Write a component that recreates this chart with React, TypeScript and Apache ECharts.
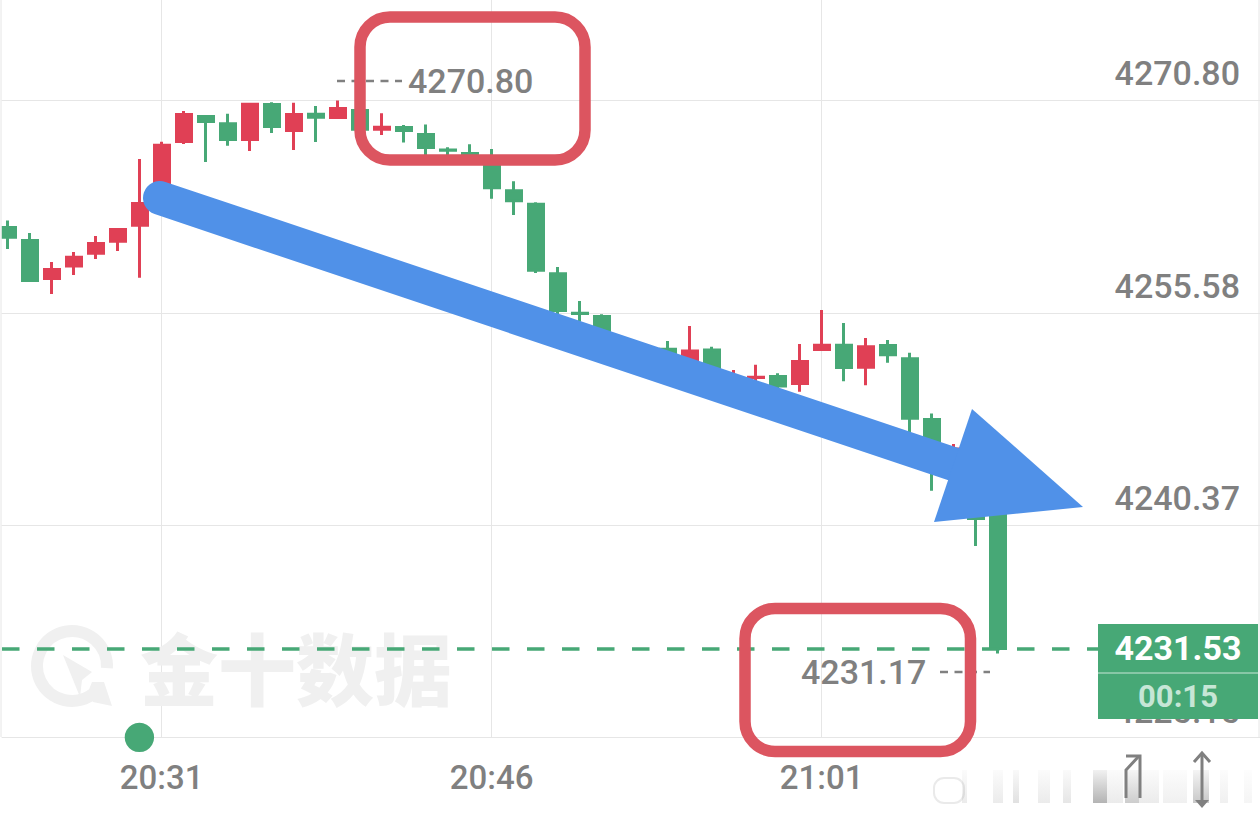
import React, { useEffect, useRef } from "react";
import * as echarts from "echarts";

const categories = [
  "20:24","20:25","20:26","20:27","20:28","20:29","20:30","20:31","20:32","20:33","20:34","20:35","20:36","20:37",
  "20:38","20:39","20:40","20:41","20:42","20:43","20:44","20:45","20:46","20:47","20:48","20:49","20:50","20:51","20:52",
  "20:53","20:54","20:55","20:56","20:57","20:58","20:59","21:00","21:01","21:02","21:03","21:04","21:05","21:06","21:07",
  "21:08","21:09",
];
const timeTicks = [7, 22, 37];
const priceTicks = [4225.15, 4240.37, 4255.58, 4270.8];

const opens = [
  4261.70,4260.77,4258.04,4258.93,4259.86,4260.72,4261.86,4263.67,4267.86,4269.65,4269.13,4268.01,4270.51,4268.65,4269.82,4269.58,
  4270.08,4268.74,4268.87,4268.36,4267.25,4267.00,4266.64,4264.33,4263.37,4258.38,4255.55,4255.32,4253.53,4252.85,4252.98,4251.77,
  4252.91,4250.41,4250.94,4251.02,4250.52,4252.96,4253.26,4251.69,4253.24,4252.29,4247.94,4244.32,4243.61,4242.17,
];
const closes = [
  4261.00,4257.90,4258.69,4259.57,4260.55,4261.56,4263.42,4267.60,4269.80,4269.30,4268.01,4270.53,4268.94,4269.80,4269.60,4270.23,
  4268.74,4268.89,4268.65,4267.43,4267.23,4266.98,4264.54,4263.61,4258.64,4255.75,4255.53,4253.85,4252.78,4252.20,4251.85,4252.84,
  4251.34,4250.84,4250.96,4250.33,4252.10,4253.26,4251.67,4253.15,4252.58,4248.03,4246.04,4245.83,4240.85,4231.53,
];
const lows = [
  4260.16,4257.79,4256.93,4258.30,4259.44,4260.02,4258.10,4263.45,4267.68,4266.39,4267.56,4267.18,4268.47,4267.25,4267.83,4269.47,
  4268.61,4268.33,4267.78,4266.89,4266.77,4266.68,4263.76,4262.59,4258.44,4255.43,4254.95,4253.64,4252.35,4251.92,4251.49,4251.34,
  4251.06,4250.05,4250.65,4250.20,4249.93,4252.85,4250.68,4250.39,4252.01,4246.97,4242.84,4243.61,4238.88,4231.17,
];
const highs = [
  4262.19,4261.30,4259.23,4259.94,4261.09,4261.66,4266.61,4267.85,4270.05,4269.76,4269.85,4270.64,4270.67,4270.64,4270.41,4270.80,
  4270.19,4269.88,4269.04,4269.07,4267.45,4267.66,4267.32,4265.01,4263.50,4258.87,4256.43,4255.48,4253.78,4253.06,4253.57,4254.64,
  4253.16,4251.49,4251.87,4251.25,4253.35,4255.79,4254.86,4253.78,4253.64,4252.73,4248.36,4246.18,4244.32,4243.00,
];
const lastPrice = "4231.53";
const countdown = "00:15";
const highLabel = "4270.80";
const lowLabel = "4231.17";
const watermark = "金十数据";

const FONT = 'Roboto, sans-serif';
const GREY = "#808080";
const GREEN = "#47A876";
const RED = "#E04055";
const BLUE = "#5091E8";
const BOX = "#DC5560";
const GRID = "#E6E6E6";
const MARK = "#F0F0F0";

function blur(x: number, w: number, a: number) {
  return {
    type: "rect",
    z: 100,
    shape: { x, y: 770, width: w, height: 33 },
    style: {
      fill: {
        type: "linear", x: 0, y: 0, x2: 0, y2: 1,
        colorStops: [
          { offset: 0, color: `rgba(130,130,130,${a * 0.15})` },
          { offset: 1, color: `rgba(130,130,130,${a * 0.8})` },
        ],
      },
    },
  };
}

export default function App() {
  const ref = useRef<HTMLDivElement>(null);
  useEffect(() => {
    document.body.style.margin = "0";
    const chart = echarts.init(ref.current!, undefined, { renderer: "svg" });
    const rows = opens.map((o, i) => [i, o, closes[i], lows[i], highs[i]]);
    chart.setOption({
      animation: false,
      backgroundColor: "#ffffff",
      grid: { left: 0, right: 0, top: 0, bottom: 79.5, containLabel: false },
      xAxis: {
        type: "value",
        min: -0.35,
        max: 56.9227,
        axisLine: { show: false },
        axisTick: { show: false, customValues: timeTicks },
        axisLabel: {
          customValues: timeTicks,
          color: GREY,
          fontFamily: FONT,
          fontWeight: 500,
          fontSize: 33,
          margin: 23,
          formatter: (v: number) => categories[v],
        },
        splitLine: { show: true, lineStyle: { color: GRID, width: 1 } },
      },
      yAxis: {
        type: "value",
        position: "right",
        min: 4225.15,
        max: 4278.0,
        axisLine: { show: false },
        axisTick: { show: false, customValues: priceTicks },
        axisLabel: {
          customValues: priceTicks,
          inside: true,
          margin: 20,
          align: "right",
          verticalAlign: "bottom",
          lineHeight: 54,
          color: GREY,
          fontFamily: FONT,
          fontWeight: 500,
          fontSize: 34,
          formatter: (v: number) => v.toFixed(2),
        },
        splitLine: { show: true, lineStyle: { color: GRID, width: 1 } },
      },
      series: [
        {
          type: "candlestick",
          data: rows,
          barWidth: 15.5,
          encode: { x: 0, y: [1, 2, 3, 4] },
          itemStyle: { color: RED, color0: GREEN, borderColor: RED, borderColor0: GREEN, borderWidth: 3 },
          markLine: {
            silent: true,
            symbol: "none",
            label: { show: false },
            animation: false,
            lineStyle: { color: GREEN, type: [17.5, 17.5], dashOffset: 33.3, width: 3.5 },
            data: [{ yAxis: Number(lastPrice) }],
          },
        },
      ],
      graphic: [
        { type: "rect", z: 90, shape: { x: 0, y: 0, width: 1.6, height: 817 }, style: { fill: "#fff" } },
        { type: "line", z: 91, shape: { x1: 1, y1: 0, x2: 1, y2: 737 }, style: { stroke: GRID, lineWidth: 1 } },
        { type: "line", z: 91, shape: { x1: 1259, y1: 0, x2: 1259, y2: 737 }, style: { stroke: GRID, lineWidth: 1 } },
        // watermark
        { type: "arc", z: 1, shape: { cx: 72, cy: 666, r: 35, startAngle: Math.PI * 0.28, endAngle: Math.PI * 0.02 }, style: { stroke: MARK, lineWidth: 12, fill: "none" } },
        { type: "polygon", z: 1, shape: { points: [[63, 655], [92, 672], [82, 680], [80, 697]] }, style: { fill: MARK } },
        { type: "polygon", z: 1, shape: { points: [[92, 682], [104, 682], [112, 706], [93, 702], [88, 692]] }, style: { fill: MARK } },
        { type: "text", z: 1, x: 140, y: 666, style: { text: watermark, fill: MARK, font: '900 78px "Noto Sans CJK SC"', textVerticalAlign: "middle" } },
        // dot
        { type: "circle", z: 100, shape: { cx: 139.4, cy: 737.4, r: 14.7 }, style: { fill: GREEN } },
        // high marker
        { type: "line", z: 50, shape: { x1: 337, y1: 81, x2: 402, y2: 81 }, style: { stroke: GREY, lineWidth: 2.5, lineDash: [8, 6.5] } },
        { type: "text", z: 50, x: 408, y: 81, style: { text: highLabel, fill: GREY, font: `500 34px ${FONT}`, textVerticalAlign: "middle" } },
        // low marker
        { type: "line", z: 50, shape: { x1: 940, y1: 672, x2: 990, y2: 672 }, style: { stroke: GREY, lineWidth: 2.5, lineDash: [8, 6.5] } },
        { type: "text", z: 50, x: 801, y: 672, style: { text: lowLabel, fill: GREY, font: `500 34px ${FONT}`, textVerticalAlign: "middle" } },
        // annotation boxes
        { type: "rect", z: 100, shape: { x: 360, y: 17, width: 225, height: 143, r: 30 }, style: { stroke: BOX, lineWidth: 11.5, fill: "none" } },
        { type: "rect", z: 100, shape: { x: 745, y: 608.5, width: 225.5, height: 143, r: 30 }, style: { stroke: BOX, lineWidth: 11.5, fill: "none" } },
        // arrow
        { type: "line", z: 100, shape: { x1: 160, y1: 198, x2: 953, y2: 464 }, style: { stroke: BLUE, lineWidth: 34, lineCap: "round" } },
        { type: "polygon", z: 100, shape: { points: [[972, 409], [1083, 507], [934, 522]] }, style: { fill: BLUE } },
        // price tag
        { type: "rect", z: 110, shape: { x: 1098, y: 624, width: 160, height: 95 }, style: { fill: GREEN } },
        { type: "line", z: 111, shape: { x1: 1098, y1: 673, x2: 1258, y2: 673 }, style: { stroke: "#C9E6D7", lineWidth: 1 } },
        { type: "text", z: 111, x: 1178, y: 648, style: { text: lastPrice, fill: "#fff", font: `bold 34px ${FONT}`, textAlign: "center", textVerticalAlign: "middle" } },
        { type: "text", z: 111, x: 1178, y: 696, style: { text: countdown, fill: "#C6E6D6", font: `bold 31px ${FONT}`, textAlign: "center", textVerticalAlign: "middle" } },
        // blurred toolbar
        { type: "rect", z: 100, shape: { x: 934, y: 778, width: 30, height: 25, r: 10 }, style: { fill: "none", stroke: "rgba(150,150,150,0.2)", lineWidth: 2 } },
        blur(962, 5, 0.2), blur(993, 10, 0.2), blur(1013, 6, 0.3), blur(1038, 12, 0.2), blur(1063, 8, 0.25),
        blur(1093, 14, 0.75), blur(1107, 16, 0.2), blur(1125, 14, 0.5), blur(1139, 20, 0.2), blur(1163, 24, 0.15),
        blur(1193, 16, 0.55), blur(1220, 8, 0.15), blur(1244, 8, 0.1),
        // icons
        { type: "polyline", z: 101, shape: { points: [[1126, 798], [1126, 770], [1139, 756]] }, style: { stroke: GREY, lineWidth: 3, fill: "none" } },
        { type: "polyline", z: 101, shape: { points: [[1126, 756], [1140, 756], [1140, 798]] }, style: { stroke: GREY, lineWidth: 3, fill: "none" } },
        { type: "line", z: 101, shape: { x1: 1202, y1: 754, x2: 1202, y2: 800 }, style: { stroke: GREY, lineWidth: 3 } },
        { type: "polyline", z: 101, shape: { points: [[1194, 762], [1202, 753], [1210, 762]] }, style: { stroke: GREY, lineWidth: 3, fill: "none" } },
        { type: "polygon", z: 101, shape: { points: [[1195, 800], [1209, 800], [1202, 808]] }, style: { fill: GREY } },
      ],
    });
    return () => chart.dispose();
  }, []);
  return <div ref={ref} style={{ position: "fixed", left: 0, top: 0, width: 1260, height: 817 }} />;
}
